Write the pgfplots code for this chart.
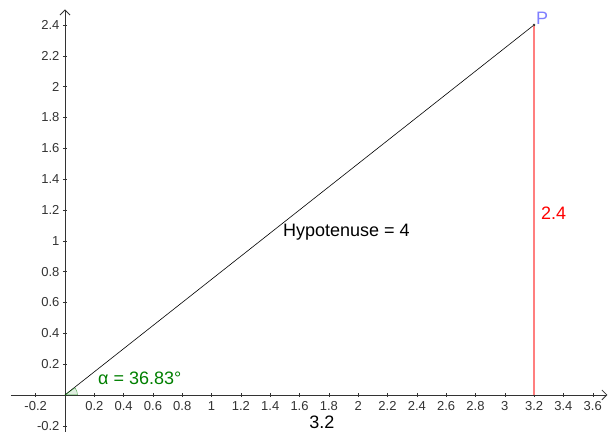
\documentclass[border=0pt]{standalone}
\usepackage{fontspec}
\setmainfont{Liberation Sans}
\usepackage{pgfplots}
\pgfplotsset{compat=1.18}
\usetikzlibrary{arrows.meta}
\definecolor{axgray}{HTML}{333333}
\definecolor{ggred}{HTML}{FF7F7F}
\definecolor{ggblue}{HTML}{7F7FFF}
\definecolor{gggreen}{HTML}{007F00}
\begin{document}
\begin{tikzpicture}[x=1pt,y=1pt]
\begin{axis}[
  scale only axis,
  width=596.7pt, height=422.5pt,
  xmin=-0.37, xmax=3.70, ymin=-0.24, ymax=2.50,
  axis lines=middle,
  axis line style={axgray, line width=0.8pt, -{Straight Barb[length=5pt,width=10pt]}},
  xtick={-0.2,0.2,0.4,0.6,0.8,1,1.2,1.4,1.6,1.8,2,2.2,2.4,2.6,2.8,3,3.2,3.4,3.6},
  ytick={-0.2,0.2,0.4,0.6,0.8,1,1.2,1.4,1.6,1.8,2,2.2,2.4},
  tick style={axgray, thin},
  major tick length=4pt,
  tick label style={font=\fontsize{13}{13}\selectfont, text=axgray},
  /pgf/number format/assume math mode=true,
  xticklabel style={yshift=-1pt},
  clip=false,
]
% hypotenuse and opposite side
\addplot[black, line width=0.6pt] coordinates {(0,0) (3.2,2.4)};
\addplot[ggred, line width=1.5pt] coordinates {(3.2,0) (3.2,2.4)};
% angle sector at origin
\fill[gggreen, fill opacity=0.12, draw=gggreen, draw opacity=0.7, thin]
  (axis cs:0,0) -- (axis cs:0.085,0) arc[start angle=0, end angle=36.87, radius=12pt] -- cycle;
% point P
\addplot[only marks, mark=*, mark size=1pt, color=axgray] coordinates {(3.2,2.4)};
\node[anchor=south west, text=ggblue, font=\fontsize{18}{18}\selectfont, inner sep=0pt]
  at (axis cs:3.212,2.40) {P};
\node[anchor=west, font=\fontsize{18}{18}\selectfont, inner sep=0pt]
  at (axis cs:1.487,1.057) {Hypotenuse = 4};
\node[anchor=west, text=red, font=\fontsize{18}{18}\selectfont, inner sep=0pt]
  at (axis cs:3.247,1.18) {2.4};
\node[anchor=west, text=gggreen, font=\fontsize{18}{18}\selectfont, inner sep=0pt]
  at (axis cs:0.225,0.11) {α = 36.83°};
\node[font=\fontsize{18}{18}\selectfont, inner sep=0pt]
  at (axis cs:1.753,-0.175) {3.2};
\coordinate (bbl) at (axis cs:-0.4434,-0.24);
\coordinate (btr) at (axis cs:3.711,2.5616);
\end{axis}
\pgfresetboundingbox
\path[use as bounding box] (bbl) rectangle (btr);
\end{tikzpicture}
\end{document}
